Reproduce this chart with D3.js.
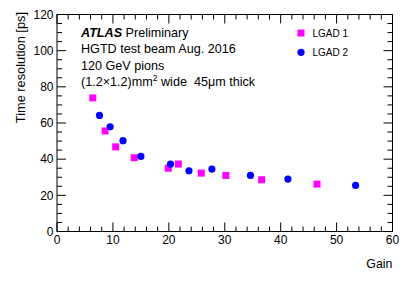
<!DOCTYPE html>
<html><head><meta charset="utf-8">
<script src="https://cdn.jsdelivr.net/npm/d3@7"></script>
<style>
body{margin:0;background:#fff;}
text{font-family:"Liberation Sans",Arial,Helvetica,sans-serif;fill:#000;}
</style></head>
<body>
<svg id="c" width="415" height="281"></svg>
<script>
const lgad1Gain = [6.4, 8.6, 10.5, 13.8, 19.9, 21.7, 25.8, 30.2, 36.6, 46.5];
const lgad1Res  = [73.9, 55.6, 46.8, 40.8, 35.0, 37.3, 32.3, 31.0, 28.6, 26.2];
const lgad2Gain = [7.6, 9.5, 11.8, 15.0, 20.3, 23.6, 27.7, 34.6, 41.3, 53.4];
const lgad2Res  = [64.2, 57.9, 50.2, 41.5, 37.3, 33.6, 34.5, 31.0, 29.0, 25.5];
const xTicks = [0, 10, 20, 30, 40, 50, 60];
const yTicks = [0, 20, 40, 60, 80, 100, 120];
const infoLines = ["HGTD test beam Aug. 2016", "120 GeV pions"];
const legendLabels = ["LGAD 1", "LGAD 2"];
const colors = ["#ff00ff", "#0000ff"];

const svg = d3.select("#c");
const L = 57, R = 392.5, T = 14.5, B = 231.5;
const x = d3.scaleLinear().domain([0, 60]).range([L, R]);
const y = d3.scaleLinear().domain([0, 120]).range([B, T]);

const g = svg.append("g");
g.append("rect").attr("x", L).attr("y", T).attr("width", R - L).attr("height", B - T)
  .attr("fill", "none").attr("stroke", "#000").attr("stroke-width", 1);

const xMinor = d3.range(0, 60.01, 2);
const yMinor = d3.range(0, 120.01, 5);
xMinor.forEach(v => {
  const major = Math.abs(v % 10) < 1e-9;
  const len = major ? 9 : 5;
  g.append("line").attr("x1", x(v)).attr("x2", x(v)).attr("y1", B).attr("y2", B - len).attr("stroke", "#000");
  g.append("line").attr("x1", x(v)).attr("x2", x(v)).attr("y1", T).attr("y2", T + len).attr("stroke", "#000");
});
yMinor.forEach(v => {
  const major = Math.abs(v % 20) < 1e-9;
  const len = major ? 9 : 5;
  g.append("line").attr("y1", y(v)).attr("y2", y(v)).attr("x1", L).attr("x2", L + len).attr("stroke", "#000");
  g.append("line").attr("y1", y(v)).attr("y2", y(v)).attr("x1", R).attr("x2", R - len).attr("stroke", "#000");
});
xTicks.forEach(v => {
  g.append("text").attr("x", x(v)).attr("y", B + 12).attr("text-anchor", "middle")
    .attr("font-size", "12px").text(v);
});
yTicks.forEach(v => {
  g.append("text").attr("x", L - 3.5).attr("y", y(v) + 4.3).attr("text-anchor", "end")
    .attr("font-size", "12px").text(v);
});
svg.append("text").attr("x", R).attr("y", 268).attr("text-anchor", "end")
  .attr("font-size", "12.4px").text("Gain");
svg.append("text").attr("transform", `translate(24.5,${T - 2.5}) rotate(-90)`).attr("text-anchor", "end")
  .attr("font-size", "12.8px").text("Time resolution [ps]");

const tx = 81, fs = "12.6px";
const t0 = svg.append("text").attr("x", tx).attr("y", 36.5).attr("font-size", fs);
t0.append("tspan").attr("font-weight", "bold").attr("font-style", "italic").text("ATLAS");
t0.append("tspan").text(" Preliminary");
infoLines.forEach((s, i) => {
  svg.append("text").attr("x", tx).attr("y", 53 + i * 16.6).attr("font-size", fs).text(s);
});
const t3 = svg.append("text").attr("x", tx).attr("y", 86.2).attr("font-size", fs);
t3.append("tspan").text("(1.2\u00d71.2)mm");
t3.append("tspan").attr("font-size", "8.5px").attr("dy", -5).text("2");
t3.append("tspan").attr("dy", 5).text("\u00a0wide\u00a0\u00a045\u03bcm thick");

const ms = 7;
g.selectAll(".s1").data(lgad1Gain.map((v, i) => [v, lgad1Res[i]])).enter().append("rect")
  .attr("x", d => x(d[0]) - ms / 2).attr("y", d => y(d[1]) - ms / 2)
  .attr("width", ms).attr("height", ms).attr("fill", colors[0]);
g.selectAll(".s2").data(lgad2Gain.map((v, i) => [v, lgad2Res[i]])).enter().append("circle")
  .attr("cx", d => x(d[0])).attr("cy", d => y(d[1])).attr("r", 3.6).attr("fill", colors[1]);

const lg = svg.append("g");
lg.append("rect").attr("x", 297.5).attr("y", 29.5).attr("width", 7).attr("height", 7).attr("fill", colors[0]);
lg.append("circle").attr("cx", 301).attr("cy", 52.3).attr("r", 3.6).attr("fill", colors[1]);
legendLabels.forEach((s, i) => {
  lg.append("text").attr("x", 312.5).attr("y", 36.6 + i * 19.5).attr("font-size", "10px").text(s);
});
</script>
</body></html>
